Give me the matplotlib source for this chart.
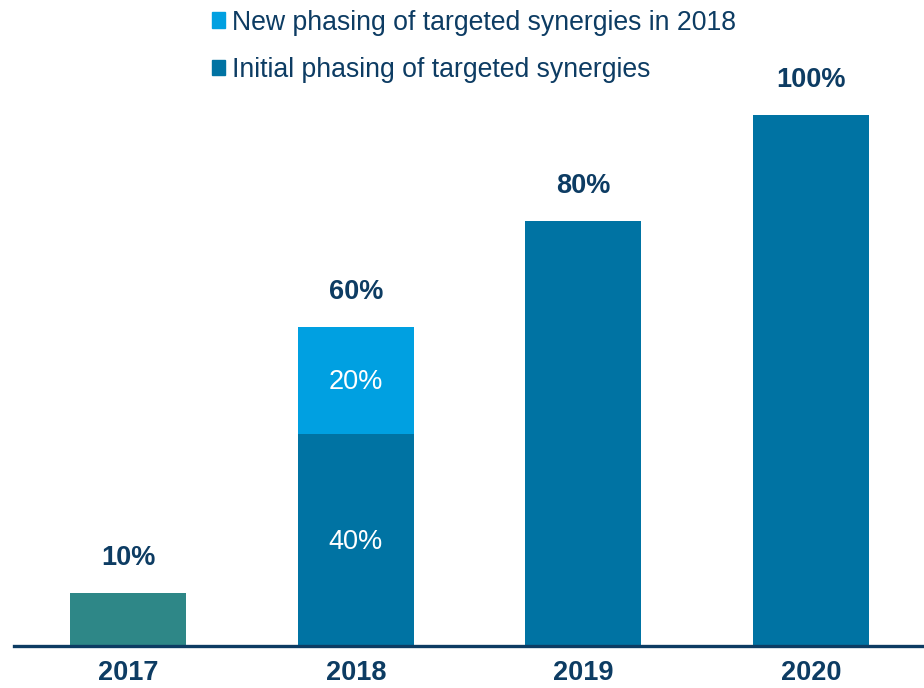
import matplotlib.pyplot as plt
from matplotlib.patches import Patch

plt.rcParams["font.family"] = ["Liberation Sans", "DejaVu Sans"]

years = ["2017", "2018", "2019", "2020"]
initial = [10, 40, 80, 100]
new_phasing = [0, 20, 0, 0]
totals = [10, 60, 80, 100]

NAVY = "#0d3c63"
TEAL = "#2e8787"
DARK_BLUE = "#0073a3"
LIGHT_BLUE = "#00a0e1"
FS = 19.5

fig = plt.figure(figsize=(9.24, 6.88), dpi=100)
ax = fig.add_axes([14 / 924, 1 - 646 / 688, 910 / 924, 646 / 688])

x = list(range(len(years)))
base_colors = [TEAL, DARK_BLUE, DARK_BLUE, DARK_BLUE]
ax.bar(x, initial, width=0.51, color=base_colors, zorder=2)
ax.bar(x, new_phasing, width=0.51, bottom=initial, color=LIGHT_BLUE, zorder=2)

for i, t in enumerate(totals):
    ax.text(i, t + 6.6, f"{t}%", ha="center", va="center", fontsize=FS,
            fontweight="bold", color=NAVY)

# inner labels for the stacked 2018 bar
ax.text(1, initial[1] / 2 - 0.5, f"{initial[1]}%", ha="center", va="center",
        fontsize=FS, color="white", zorder=3)
ax.text(1, initial[1] + new_phasing[1] / 2 - 0.3, f"{new_phasing[1]}%", ha="center",
        va="center", fontsize=FS, color="white", zorder=3)

ax.set_xlim(-0.503, 3.497)
ax.set_ylim(0, 121.66)
for s in ["top", "right", "left"]:
    ax.spines[s].set_visible(False)
ax.spines["bottom"].set_color(NAVY)
ax.spines["bottom"].set_linewidth(2.4)
ax.spines["bottom"].set_zorder(4)
ax.set_yticks([])
ax.set_xticks(x)
ax.set_xticklabels(years, fontsize=FS, fontweight="bold", color=NAVY)
ax.tick_params(axis="x", length=0, pad=10)

handles = [Patch(color=LIGHT_BLUE), Patch(color=DARK_BLUE)]
fig.legend(handles, ["New phasing of targeted synergies in 2018",
                     "Initial phasing of targeted synergies"],
           loc="upper left", bbox_to_anchor=(212 / 924, 1 - 9.5 / 688),
           frameon=False, fontsize=19.2, handlelength=0.5, handleheight=0.5,
           handletextpad=0.25, labelspacing=0.8, borderpad=0, borderaxespad=0,
           labelcolor=NAVY)

fig.savefig("out.png", dpi=100)
